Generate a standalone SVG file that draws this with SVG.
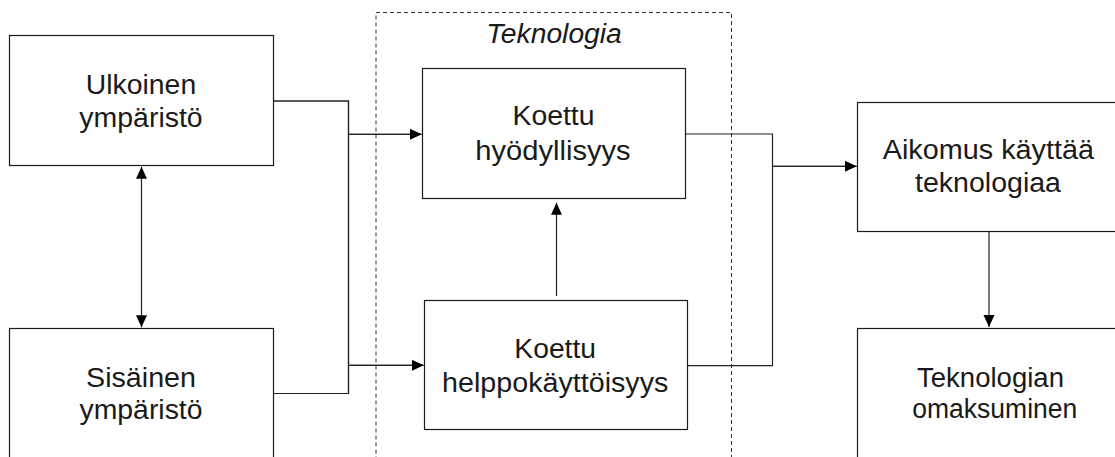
<svg xmlns="http://www.w3.org/2000/svg" width="1115" height="457" viewBox="0 0 1115 457">
<defs>
<style>
.box{fill:#fff;stroke:#1a1a1a;stroke-width:1.2}
.lbl{font-family:"Liberation Sans",Arial,sans-serif;font-size:27px;fill:#1a1a1a;text-anchor:middle}
.edge{fill:none;stroke:#222;stroke-width:1.2}
.group{fill:none;stroke:#333;stroke-width:1;stroke-dasharray:4 3}
</style>
<marker id="ah" markerUnits="userSpaceOnUse" markerWidth="13" markerHeight="12" refX="12" refY="5.5" orient="auto-start-reverse">
<path d="M0,0 L12,5.5 L0,11 z" fill="#000"/>
</marker>
</defs>
<rect width="1115" height="457" fill="#fff"/>
<g id="teknologia-group">
<rect class="group" x="376" y="12.5" width="355.5" height="460"/>
<text class="lbl" x="554" y="43.3" font-style="italic" textLength="135.7" lengthAdjust="spacingAndGlyphs">Teknologia</text>
</g>
<g id="connectors">
<path class="edge" d="M273.5,101 H348.5 V134.3 H421.5" marker-end="url(#ah)"/>
<path class="edge" d="M273.5,101 H348.5 V365.3 H423.5" marker-end="url(#ah)"/>
<path class="edge" d="M273.5,393.5 H348.5 V134.3 H421.5" marker-end="url(#ah)"/>
<path class="edge" d="M273.5,393.5 H348.5 V365.3 H423.5" marker-end="url(#ah)"/>
<path class="edge" d="M685.5,134 H772.5 V166.3 H856.5" marker-end="url(#ah)"/>
<path class="edge" d="M687.5,365.7 H772.5 V166.3 H856.5" marker-end="url(#ah)"/>
<path class="edge" d="M556.5,296 V202.7" marker-end="url(#ah)"/>
<path class="edge" d="M141.5,166.7 V327.3" marker-start="url(#ah)" marker-end="url(#ah)"/>
<path class="edge" d="M989,231.5 V327" marker-end="url(#ah)"/>
</g>
<g id="ulkoinen">
<rect class="box" x="9.5" y="35.5" width="264" height="130"/>
<text class="lbl" x="141" y="94" textLength="110.3" lengthAdjust="spacingAndGlyphs">Ulkoinen</text>
<text class="lbl" x="141" y="127.3" textLength="123.3" lengthAdjust="spacingAndGlyphs">ympäristö</text>
</g>
<g id="sisainen">
<rect class="box" x="9.5" y="328.5" width="264" height="130"/>
<text class="lbl" x="141" y="387" textLength="110" lengthAdjust="spacingAndGlyphs">Sisäinen</text>
<text class="lbl" x="141" y="419" textLength="123" lengthAdjust="spacingAndGlyphs">ympäristö</text>
</g>
<g id="hyodyllisyys">
<rect class="box" x="422.5" y="68.5" width="263" height="130"/>
<text class="lbl" x="553.5" y="125.3" textLength="82" lengthAdjust="spacingAndGlyphs">Koettu</text>
<text class="lbl" x="553" y="159.5" textLength="155.3" lengthAdjust="spacingAndGlyphs">hyödyllisyys</text>
</g>
<g id="helppokayttoisyys">
<rect class="box" x="424.5" y="300.5" width="263" height="129"/>
<text class="lbl" x="555.2" y="358.3" textLength="81.7" lengthAdjust="spacingAndGlyphs">Koettu</text>
<text class="lbl" x="555.2" y="391.7" textLength="226.3" lengthAdjust="spacingAndGlyphs">helppokäyttöisyys</text>
</g>
<g id="aikomus">
<rect class="box" x="857.5" y="102.5" width="264" height="129"/>
<text class="lbl" x="988.4" y="159.3" textLength="211.3" lengthAdjust="spacingAndGlyphs">Aikomus käyttää</text>
<text class="lbl" x="988" y="191.7" textLength="146" lengthAdjust="spacingAndGlyphs">teknologiaa</text>
</g>
<g id="omaksuminen">
<rect class="box" x="857.5" y="328.5" width="264" height="130"/>
<text class="lbl" x="990.5" y="386.7" textLength="147" lengthAdjust="spacingAndGlyphs">Teknologian</text>
<text class="lbl" x="994.8" y="418.3" textLength="165" lengthAdjust="spacingAndGlyphs">omaksuminen</text>
</g>
</svg>
